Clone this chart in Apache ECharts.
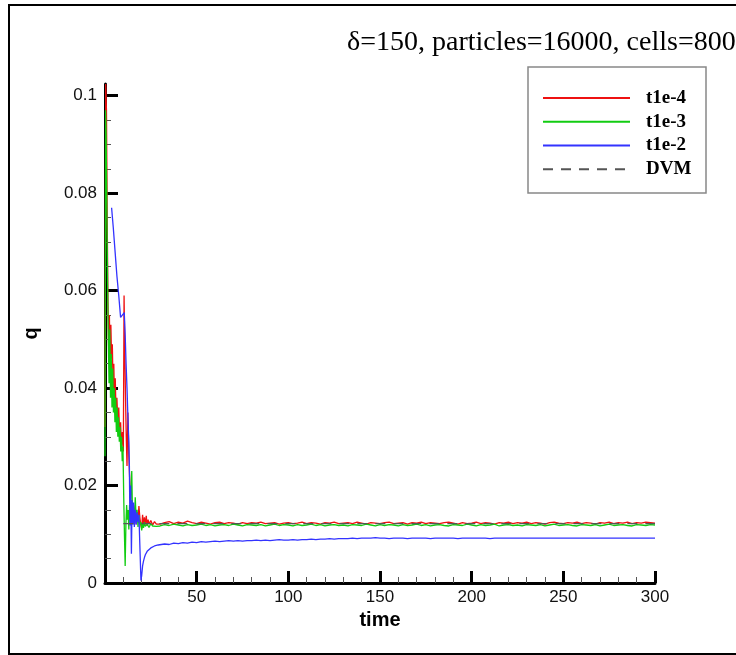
<!DOCTYPE html>
<html><head><meta charset="utf-8">
<script src="https://cdn.jsdelivr.net/npm/echarts@6/dist/echarts.min.js"></script>
<style>html,body{margin:0;padding:0;background:#fff}#c{width:736px;height:655px}</style>
</head><body><div id="c"></div>
<script>
const titleText = 'δ=150, particles=16000, cells=800';
const seriesNames = ['t1e-4', 't1e-3', 't1e-2', 'DVM'];
const xAxisName = 'time';
const yAxisName = 'q';
const yMajorTicks = [0, 0.02, 0.04, 0.06, 0.08, 0.1];
const yMinorTicks = [0.005, 0.01, 0.015, 0.025, 0.03, 0.035, 0.045, 0.05, 0.055, 0.065, 0.07, 0.075, 0.085, 0.09, 0.095];

// transient part
const redTime = [0,0.4,0.8,1.2,1.6,2,2.4,2.8,3.2,3.6,4,4.4,4.8,5.2,5.6,6,6.5,7,7.5,8,8.5,9,9.5,10,10.4,10.8,11.2,11.6,12,12.5,13,13.5,14,14.5,15,15.5,16,16.5,17,17.5,18,18.5,19,19.5,20,20.5,21,21.5,22,22.5,23,23.5,24,25,26,27,28,29];
const redQ = [0.032,0.1024,0.097,0.075,0.058,0.048,0.055,0.044,0.053,0.046,0.049,0.040,0.045,0.037,0.042,0.035,0.038,0.033,0.036,0.030,0.033,0.028,0.031,0.027,0.059,0.047,0.038,0.030,0.024,0.035,0.026,0.021,0.015,0.017,0.013,0.016,0.014,0.0155,0.012,0.0145,0.0128,0.0158,0.0135,0.012,0.0112,0.014,0.0118,0.0135,0.012,0.0138,0.0117,0.013,0.0121,0.0128,0.0119,0.0126,0.0121,0.0124];

const greenTime = [0,0.3,0.6,1,1.4,1.8,2.2,2.6,3,3.4,3.8,4.2,4.6,5,5.4,5.8,6.2,6.6,7,7.4,7.8,8.2,8.6,9,9.4,9.8,10.2,10.6,11,11.4,11.8,12.2,12.6,13,13.4,13.8,14.2,14.6,15,15.5,16,16.5,17,17.5,18,18.5,19,19.5,20,20.5,21,21.5,22,23,24,25,26,27,28,29];
const greenQ = [0.026,0.097,0.092,0.078,0.062,0.05,0.041,0.052,0.038,0.047,0.036,0.044,0.035,0.04,0.033,0.038,0.031,0.036,0.03,0.034,0.029,0.032,0.027,0.03,0.025,0.028,0.018,0.01,0.0035,0.012,0.016,0.013,0.015,0.011,0.016,0.013,0.02,0.023,0.014,0.016,0.012,0.0176,0.013,0.015,0.0115,0.014,0.012,0.0125,0.0108,0.0122,0.0113,0.0125,0.0116,0.0121,0.0114,0.0122,0.0117,0.012,0.0116,0.0119];

const blueTime = [3.6,4.5,5.5,6.5,7.5,8.5,9.5,10.5,11,11.5,12,12.5,13,13.3,13.6,14,14.4,14.8,15.2,15.6,16,16.5,17,17.5,18,18.5,19,19.6,20,20.5,21,21.5,22,22.5,23,24,25,26,27,28,29];
const blueQ = [0.077,0.073,0.068,0.063,0.059,0.0545,0.0546,0.0555,0.051,0.045,0.04,0.034,0.029,0.024,0.0118,0.02,0.006,0.017,0.012,0.0165,0.0115,0.015,0.012,0.0145,0.0125,0.014,0.0137,0.0005,0.0015,0.0035,0.0045,0.0052,0.0058,0.0055,0.0065,0.0068,0.0072,0.007,0.0076,0.0074,0.0078];

// steady part
const steadyTime = [30,32.5,35,37.5,40,42.5,45,47.5,50,52.5,55,57.5,60,62.5,65,67.5,70,72.5,75,77.5,80,82.5,85,87.5,90,92.5,95,97.5,100,102.5,105,107.5,110,112.5,115,117.5,120,122.5,125,127.5,130,132.5,135,137.5,140,142.5,145,147.5,150,152.5,155,157.5,160,162.5,165,167.5,170,172.5,175,177.5,180,182.5,185,187.5,190,192.5,195,197.5,200,202.5,205,207.5,210,212.5,215,217.5,220,222.5,225,227.5,230,232.5,235,237.5,240,242.5,245,247.5,250,252.5,255,257.5,260,262.5,265,267.5,270,272.5,275,277.5,280,282.5,285,287.5,290,292.5,295,297.5,300];
const redSteadyQ = [
  0.0121,0.0124,0.0126,0.0122,0.0125,0.0123,0.0127,0.0124,0.0122,0.0125,
  0.0123,0.0121,0.0124,0.0125,0.0122,0.0124,0.0123,0.0121,0.0124,0.0122,
  0.0124,0.0123,0.0125,0.0122,0.0123,0.0124,0.0121,0.0123,0.0124,0.0122,
  0.0123,0.0125,0.0122,0.0124,0.0123,0.0121,0.0124,0.0123,0.0125,0.0122,
  0.0123,0.0124,0.0122,0.0125,0.0123,0.0121,0.0124,0.0123,0.0122,0.0124,
  0.0125,0.0122,0.0123,0.0124,0.0121,0.0124,0.0123,0.0125,0.0122,0.0124,
  0.0123,0.0122,0.0124,0.0125,0.0123,0.0121,0.0124,0.0122,0.0123,0.0125,
  0.0122,0.0124,0.0123,0.0121,0.0124,0.0123,0.0125,0.0122,0.0124,0.0123,
  0.0125,0.0122,0.0124,0.0123,0.0121,0.0124,0.0125,0.0123,0.0122,0.0124,
  0.0123,0.0125,0.0122,0.0124,0.0123,0.0121,0.0124,0.0123,0.0125,0.0122,
  0.0124,0.0123,0.0125,0.0122,0.0124,0.0123,0.0125,0.0124,0.0123];
const greenSteadyQ = [
  0.0117,0.0120,0.0118,0.0121,0.0119,0.0117,0.0120,0.0118,0.0119,0.0121,
  0.0118,0.0120,0.0117,0.0119,0.0120,0.0118,0.0121,0.0119,0.0117,0.0120,
  0.0119,0.0118,0.0120,0.0117,0.0119,0.0121,0.0118,0.0120,0.0119,0.0117,
  0.0120,0.0118,0.0119,0.0121,0.0118,0.0120,0.0117,0.0119,0.0120,0.0118,
  0.0119,0.0117,0.0120,0.0119,0.0118,0.0121,0.0119,0.0117,0.0120,0.0118,
  0.0120,0.0119,0.0117,0.0120,0.0118,0.0119,0.0121,0.0118,0.0120,0.0117,
  0.0119,0.0120,0.0118,0.0117,0.0120,0.0119,0.0118,0.0121,0.0119,0.0117,
  0.0120,0.0118,0.0119,0.0121,0.0117,0.0119,0.0120,0.0118,0.0119,0.0117,
  0.0120,0.0119,0.0118,0.0120,0.0117,0.0119,0.0121,0.0118,0.0119,0.0120,
  0.0118,0.0117,0.0120,0.0119,0.0118,0.0120,0.0117,0.0119,0.0121,0.0118,
  0.0119,0.0120,0.0118,0.0117,0.0120,0.0119,0.0118,0.0120,0.0119];
const blueSteadyQ = [
  0.0078,0.0080,0.0079,0.0082,0.0081,0.0083,0.0082,0.0084,0.0083,0.0085,
  0.0084,0.0085,0.0086,0.0085,0.0086,0.0087,0.0086,0.0087,0.0086,0.0087,
  0.0087,0.0088,0.0087,0.0088,0.0087,0.0088,0.0089,0.0088,0.0088,0.0089,
  0.0088,0.0089,0.0089,0.0090,0.0089,0.0090,0.0090,0.0091,0.0090,0.0091,
  0.0091,0.0091,0.0092,0.0091,0.0092,0.0092,0.0092,0.0093,0.0092,0.0092,
  0.0091,0.0092,0.0092,0.0092,0.0091,0.0092,0.0092,0.0092,0.0092,0.0091,
  0.0092,0.0092,0.0092,0.0092,0.0092,0.0091,0.0092,0.0092,0.0092,0.0092,
  0.0092,0.0092,0.0091,0.0092,0.0092,0.0092,0.0092,0.0092,0.0092,0.0092,
  0.0092,0.0092,0.0092,0.0092,0.0092,0.0092,0.0092,0.0092,0.0092,0.0092,
  0.0092,0.0092,0.0092,0.0092,0.0092,0.0092,0.0092,0.0092,0.0092,0.0092,
  0.0092,0.0092,0.0092,0.0092,0.0092,0.0092,0.0092,0.0092,0.0092];

const dvmTime = [10, 300];
const dvmQ = [0.0122, 0.0122];

function pairs(t, q) { return t.map((v, i) => [v, q[i]]); }
const redData = pairs(redTime, redQ).concat(pairs(steadyTime, redSteadyQ));
const greenData = pairs(greenTime, greenQ).concat(pairs(steadyTime, greenSteadyQ));
const blueData = pairs(blueTime, blueQ).concat(pairs(steadyTime, blueSteadyQ));
const dvmData = pairs(dvmTime, dvmQ);

const sans = 'Liberation Sans, Arial, sans-serif';
const serif = 'Liberation Serif, Times New Roman, serif';
const yMax = 0.1024;

const chart = echarts.init(document.getElementById('c'), null, {renderer: 'canvas'});
chart.setOption({
  animation: false,
  backgroundColor: '#fff',
  title: {
    text: titleText, left: 347, top: 29, padding: 0,
    textStyle: {fontFamily: serif, fontSize: 28, fontWeight: 'normal', color: '#000'}
  },
  graphic: [
    {type: 'rect', shape: {x: 9, y: 5, width: 760, height: 649}, style: {fill: 'none', stroke: '#000', lineWidth: 2}, silent: true, z: 0},
    {type: 'rect', shape: {x: 528, y: 67, width: 178, height: 126}, style: {fill: '#fff', stroke: '#888', lineWidth: 1.5}, silent: true, z: 0}
  ],
  legend: {
    orient: 'vertical', left: 542, top: 86, padding: 0,
    itemWidth: 87, itemHeight: 14, itemGap: 0,
    itemStyle: {opacity: 0},
    textStyle: {fontFamily: serif, fontSize: 19, fontWeight: 'bold', color: '#000', lineHeight: 23.8, padding: [0, 0, 0, 11]},
    data: seriesNames, z: 5
  },
  grid: {left: 105, right: 81, top: 84, bottom: 72, containLabel: false},
  xAxis: {
    type: 'value', min: 0, max: 300, interval: 50,
    name: xAxisName, nameLocation: 'middle', nameGap: 23,
    nameTextStyle: {fontFamily: sans, fontSize: 20, fontWeight: 'bold', color: '#000'},
    axisLine: {show: true, onZero: false, lineStyle: {color: '#000', width: 3}},
    axisTick: {show: true, inside: true, length: 12, lineStyle: {color: '#000', width: 3}},
    minorTick: {show: true, splitNumber: 5, length: 6, lineStyle: {color: '#555', width: 1}},
    axisLabel: {showMinLabel: false, margin: 6, fontFamily: sans, fontSize: 17, color: '#111'},
    splitLine: {show: false}
  },
  yAxis: [{
    type: 'value', min: 0, max: yMax,
    name: yAxisName, nameLocation: 'middle', nameGap: 64, nameRotate: 90,
    nameTextStyle: {fontFamily: sans, fontSize: 20, fontWeight: 'bold', color: '#000'},
    axisLine: {show: true, onZero: false, lineStyle: {color: '#000', width: 3}},
    axisTick: {show: true, inside: true, length: 13, customValues: yMajorTicks, lineStyle: {color: '#000', width: 3}},
    axisLabel: {customValues: yMajorTicks, margin: 8, fontFamily: sans, fontSize: 17, color: '#111'},
    splitLine: {show: false}
  }, {
    type: 'value', min: 0, max: yMax, position: 'left',
    axisLine: {show: false},
    axisTick: {show: true, inside: true, length: 6, customValues: yMinorTicks, lineStyle: {color: '#555', width: 1}},
    axisLabel: {show: false},
    splitLine: {show: false}
  }],
  series: [
    {name: seriesNames[0], type: 'line', data: redData, symbol: 'none', lineStyle: {color: '#ee1111', width: 1.3}, itemStyle: {color: '#ee1111'}, z: 2},
    {name: seriesNames[1], type: 'line', data: greenData, symbol: 'none', lineStyle: {color: '#11cc11', width: 1.3}, itemStyle: {color: '#11cc11'}, z: 2},
    {name: seriesNames[2], type: 'line', data: blueData, symbol: 'none', lineStyle: {color: '#3333ff', width: 1.3}, itemStyle: {color: '#3333ff'}, z: 2},
    {name: seriesNames[3], type: 'line', data: dvmData, symbol: 'none', lineStyle: {color: '#555', width: 1.3, type: [10, 8]}, itemStyle: {color: '#555'}, z: 3}
  ]
});
</script></body></html>
